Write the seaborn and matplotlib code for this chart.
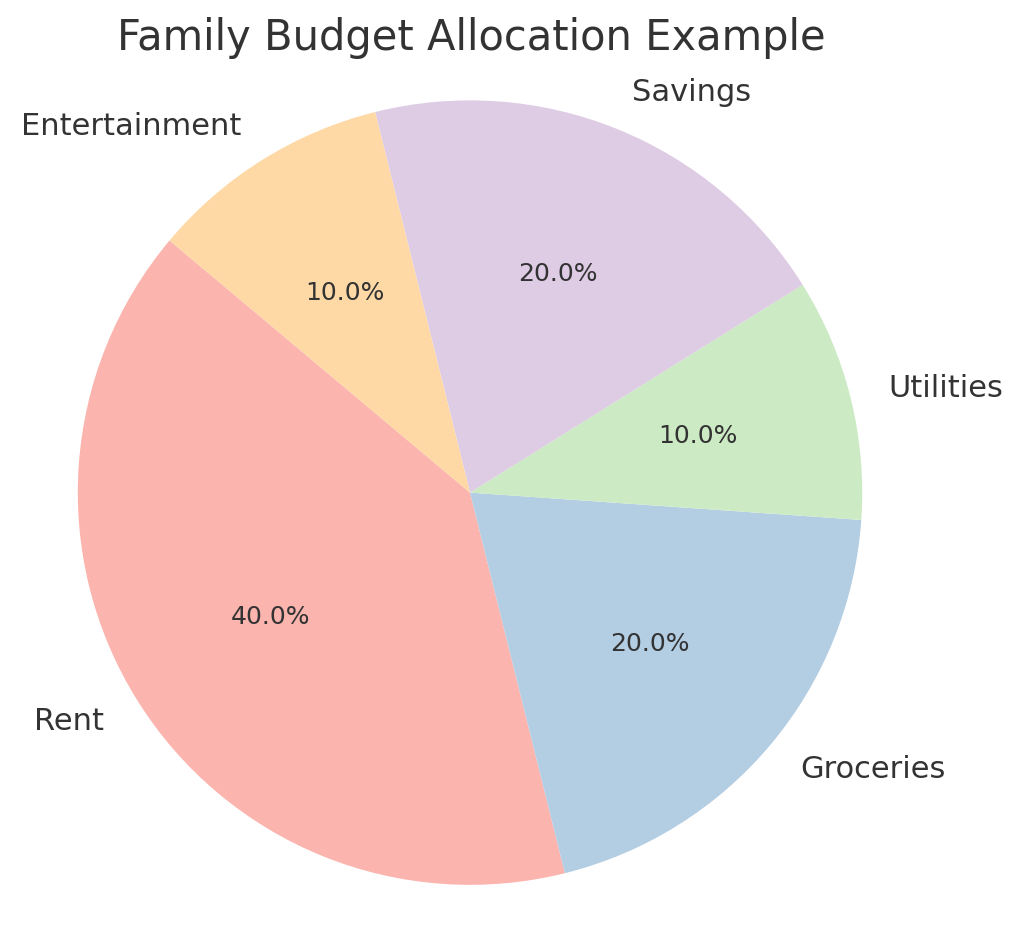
import matplotlib
matplotlib.use("Agg")
import matplotlib.pyplot as plt
import seaborn as sns

categories = ["Rent", "Groceries", "Utilities", "Savings", "Entertainment"]
values = [40, 20, 10, 20, 10]

sns.set_theme(style="white")
plt.rcParams['font.family'] = ['DejaVu Sans']
plt.rcParams['text.color'] = '#333333'

colors = sns.color_palette("Pastel1", 5)

fig = plt.figure(figsize=(10.24, 9.41), dpi=100)
ax = fig.add_axes([0.0, 0.018, 0.918, 0.917])
wedges, texts, autotexts = ax.pie(values, labels=categories, colors=colors, autopct='%1.1f%%',
                                  startangle=140, labeldistance=1.1, pctdistance=0.6,
                                  wedgeprops={'linewidth': 0})
for t in texts:
    t.set_fontsize(22)
    t.set_color('#333333')
for t in autotexts:
    t.set_fontsize(18)
    t.set_color('#333333')
ax.axis('equal')
fig.text(0.46, 0.96, "Family Budget Allocation Example", ha='center', va='center', fontsize=30, color='#333333')
fig.savefig("out.png", dpi=100)
